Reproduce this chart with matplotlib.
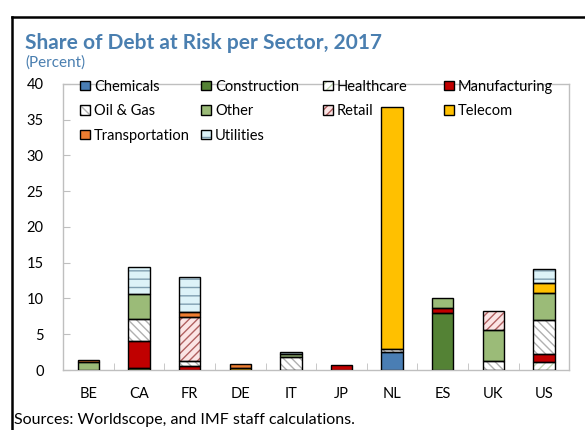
import numpy as np
import matplotlib.pyplot as plt
from matplotlib.patches import Patch
from matplotlib.lines import Line2D

plt.rcParams['font.family'] = ['Lato', 'DejaVu Sans']
plt.rcParams['hatch.linewidth'] = 1.0

countries = ["BE", "CA", "FR", "DE", "IT", "JP", "NL", "ES", "UK", "US"]

# percent of debt at risk, one list per sector (stacked bottom to top)
chemicals      = [0, 0,    0,    0,    0,    0,   2.55, 0,   0,   0]
construction   = [0, 0.25, 0,    0,    0,    0,   0,    8.0, 0,   0]
healthcare     = [0, 0,    0,    0,    0,    0,   0,    0,   0,   1.15]
manufacturing  = [0, 3.85, 0.5,  0,    0,    0.7, 0,    0.6, 0,   1.05]
oil_gas        = [0, 3.0,  0.75, 0,    1.85, 0,   0.45, 0,   1.3, 4.8]
other          = [1.1, 3.5, 0,   0,    0.4,  0,   0,    1.4, 4.3, 3.7]
retail         = [0, 0,    6.2,  0,    0,    0,   0,    0,   2.6, 0]
telecom        = [0, 0,    0,    0.35, 0,    0,   33.8, 0,   0,   1.4]
transportation = [0.3, 0,  0.65, 0.45, 0,    0,   0,    0,   0,   0]
utilities      = [0, 3.85, 4.85, 0,    0.25, 0,   0,    0,   0,   2.0]

sectors = ["Chemicals", "Construction", "Healthcare", "Manufacturing",
           "Oil & Gas", "Other", "Retail", "Telecom", "Transportation", "Utilities"]
values = [chemicals, construction, healthcare, manufacturing, oil_gas,
          other, retail, telecom, transportation, utilities]

# (face colour, hatch, hatch colour)
styles = [
    ("#4a7eb4", None, None),
    ("#548235", None, None),
    ("#ffffff", "////", "#c5d9b5"),
    ("#c00000", None, None),
    ("#ffffff", "\\\\\\\\", "#b0b0b0"),
    ("#9bbb78", None, None),
    ("#fbe4e4", "////", "#b06060"),
    ("#ffc000", None, None),
    ("#ed7d31", None, None),
    ("#ddf3f8", "--", "#7f9fb0"),
]

fig = plt.figure(figsize=(5.85, 4.30), dpi=100)
ax = fig.add_axes([0.108, 0.1395, 0.865, 0.6655])

x = np.arange(len(countries))
width = 0.42
bottom = np.zeros(len(countries))
handles = []
for name, vals, (fc, hatch, hc) in zip(sectors, values, styles):
    vals = np.array(vals, dtype=float)
    keep = vals > 0
    ax.bar(x[keep], vals[keep], width, bottom=bottom[keep], color=fc,
           hatch=hatch, edgecolor=hc if hc else fc, linewidth=0, zorder=2)
    ax.bar(x[keep], vals[keep], width, bottom=bottom[keep], fill=False,
           edgecolor="black", linewidth=1.0, zorder=3)
    bottom += vals
    handles.append((Patch(facecolor=fc, hatch=hatch, edgecolor=hc if hc else fc, linewidth=0),
                    Patch(fill=False, edgecolor="black", linewidth=1.0)))

ax.set_xlim(-0.5, len(countries) - 0.5)
ax.set_ylim(0, 40)
ax.set_yticks(range(0, 41, 5))
ax.set_xticks(x)
ax.set_xticklabels(countries)
ax.set_xticks(np.arange(0.5, len(countries) - 1, 1), minor=True)
ax.tick_params(axis="x", which="major", length=0, pad=12, labelsize=10.5)
ax.tick_params(axis="x", which="minor", direction="in", length=5, color="#bfbfbf")
ax.tick_params(axis="y", direction="in", length=5, color="#bfbfbf", pad=14, labelsize=10.5)
for sp in ax.spines.values():
    sp.set_color("#bfbfbf")
    sp.set_linewidth(1.0)

# legend laid out row by row in four evenly spaced columns
col_x = [0.0336, 0.2727, 0.5138, 0.753]
ncol = 4
for c in range(ncol):
    idx = list(range(c, len(sectors), ncol))
    leg = ax.legend([handles[i] for i in idx], [sectors[i] for i in idx],
                    loc="upper left", bbox_to_anchor=(col_x[c], 1.015),
                    frameon=False, fontsize=10.5, handlelength=0.65,
                    handleheight=0.65, handletextpad=0.3, labelspacing=0.72,
                    borderpad=0, borderaxespad=0)
    if c < ncol - 1:
        ax.add_artist(leg)

fig.text(0.043, 0.885, "Share of Debt at Risk per Sector, 2017", fontsize=15,
         fontweight="bold", color="#4a7fb0")
fig.text(0.043, 0.845, "(Percent)", fontsize=11, color="#4a7fb0")
fig.text(0.024, 0.015, "Sources: Worldscope, and IMF staff calculations.", fontsize=11.5)

# outer frame, cut off on the right and bottom
fig.add_artist(Line2D([0.021, 0.021], [0.0, 0.961], color="black", linewidth=1.8))
fig.add_artist(Line2D([0.021, 1.0], [0.961, 0.961], color="black", linewidth=1.8))

fig.savefig("out.png", dpi=100)
